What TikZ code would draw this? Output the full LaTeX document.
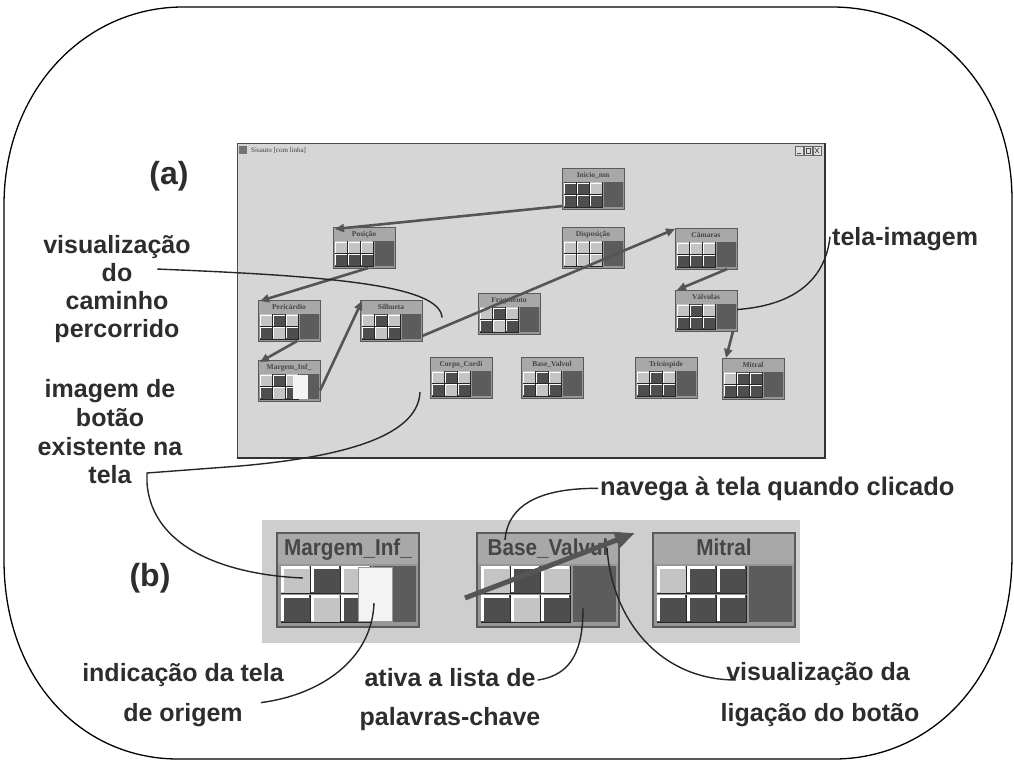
\documentclass[tikz,border=0pt]{standalone}
\usepackage{fontspec}
\setmainfont{Liberation Sans}
\newfontfamily\wserif{Liberation Serif}
\usetikzlibrary{arrows.meta,calc}

\definecolor{winbg}{RGB}{214,214,214}
\definecolor{stripbg}{RGB}{206,206,206}
\definecolor{wtitle}{RGB}{168,168,168}
\definecolor{wbody}{RGB}{150,150,150}
\definecolor{wedge}{RGB}{90,90,90}
\definecolor{cellL}{RGB}{196,196,196}
\definecolor{cellD}{RGB}{78,78,78}
\definecolor{wblock}{RGB}{92,92,92}
\definecolor{wtext}{RGB}{70,70,70}
\definecolor{flowc}{RGB}{85,85,85}
\definecolor{textc}{RGB}{45,45,45}
\definecolor{whiteblk}{RGB}{244,244,244}

\newcommand{\wsmallfont}{\fontsize{7.5}{8}\selectfont\wserif\bfseries}
\newcommand{\wbigfont}{\fontsize{23}{26}\selectfont\bfseries}

% #1 name, #2 top-left, #3 scale, #4 title, #5 font, #6 cell pattern
\newcommand{\wdg}[6]{%
  \pgfmathsetmacro\wlw{max(0.8,2.2*#3)}%
  \pgfmathsetmacro\wsl{max(0.5,1.0*#3)}%
  \pgfmathsetmacro\ww{142*#3}%
  \pgfmathsetmacro\wh{94*#3}%
  \begin{scope}[shift={#2},scale=#3]
    \fill[wbody] (0,0) rectangle (142,94);
    \fill[wtitle] (0,0) rectangle (142,31);
    \foreach \wt [count=\wi from 0] in {#6}{%
      \pgfmathtruncatemacro\wr{int(\wi/3)}%
      \pgfmathtruncatemacro\wc{mod(\wi,3)}%
      \pgfmathsetmacro\wxa{4+30*\wc}%
      \pgfmathsetmacro\wya{33+29*\wr}%
      \if\wt L\fill[cellL] (\wxa,\wya) rectangle ++(29,27);\else\fill[cellD] (\wxa,\wya) rectangle ++(29,27);\fi
      \draw[black!85,line width=\wsl pt] (\wxa,\wya+27) -- ++(29,0) -- ++(0,-27);
      \draw[white,line width=\wlw pt] (\wxa+1.5,\wya+26) -- (\wxa+1.5,\wya+1.5) -- (\wxa+28,\wya+1.5);
    }
    \fill[wblock] (96,33) rectangle (139,89);
    \node[font=#5,text=wtext,anchor=base,inner sep=0] at (71,22) {#4};
    \draw[wedge,line width=\wlw pt] (0,0) rectangle (142,94);
  \end{scope}
  \node[inner sep=0,outer sep=0,minimum width=\ww pt,minimum height=\wh pt,anchor=north west] (#1) at #2 {};%
}

\begin{document}
\begin{tikzpicture}[x=1pt,y=-1pt,
  flow/.style={draw=flowc,line width=2.6pt,-{Triangle[length=9pt,width=8pt]}},
  ann/.style={draw=black!85,line width=1.4pt},
  lbl/.style={font=\fontsize{25}{30}\selectfont\bfseries,text=textc,inner sep=0pt,anchor=base}]
\useasboundingbox (0,0) rectangle (1014,762);

% outer frame
\draw[line width=1.3pt] (183,7) -- (832,7) .. controls (931,7) and (1012,84) .. (1012,200)
  -- (1012,555) .. controls (1012,680) and (930,759) .. (834,759)
  -- (178,759) .. controls (82,759) and (4,680) .. (4,560)
  -- (4,205) .. controls (4,90) and (85,7) .. (183,7);

% window (a)
\fill[winbg] (237,143) rectangle (825,458);
\draw[black!70,line width=0.8pt] (237,458) -- (237,143) -- (825,143);
\draw[black!80,line width=2pt] (825,143) -- (825,458) -- (237,458);
\fill[black!55] (239,146) rectangle (247,154);
\node[anchor=base west,font=\fontsize{7}{8}\selectfont\wserif,text=black!75,inner sep=0] (wtitle) at (251,153) {Sisauto [com linha]};
\draw[black!60,line width=0.6pt,fill=black!12] (795,146) rectangle (803,155);
\draw[black!60,line width=0.6pt,fill=black!12] (804,146) rectangle (812,155);
\draw[black!60,line width=0.6pt,fill=black!12] (813,146) rectangle (821,155);
\draw[black!70,line width=0.6pt] (797,153) -- (801,153);
\draw[black!70,line width=0.5pt] (806,148) rectangle (810,153);
\draw[black!70,line width=0.6pt] (815,148) -- (819,153) (815,153) -- (819,148);

% small widgets
\wdg{inicio}{(562,168)}{0.437}{Inicio\_nm}{\wsmallfont}{D,D,L,D,D,D}
\wdg{posicao}{(333,227)}{0.437}{Posição}{\wsmallfont}{L,L,L,D,D,D}
\wdg{disposicao}{(562,227)}{0.437}{Disposição}{\wsmallfont}{L,L,L,L,L,L}
\wdg{camaras}{(675,228)}{0.437}{Câmaras}{\wsmallfont}{L,L,L,D,D,D}
\wdg{pericardio}{(258,300)}{0.437}{Pericárdio}{\wsmallfont}{L,D,L,D,L,D}
\wdg{silhueta}{(360,300)}{0.437}{Silhueta}{\wsmallfont}{L,D,L,D,L,D}
\wdg{fragmento}{(478,293)}{0.437}{Fragmento}{\wsmallfont}{L,D,L,D,L,D}
\wdg{valvulas}{(675,290)}{0.437}{Válvulas}{\wsmallfont}{L,D,L,D,D,D}
\wdg{margemA}{(258,360)}{0.437}{Margem\_Inf\_}{\wsmallfont}{L,D,L,D,L,D}
\fill[whiteblk] ($(margemA.north west)+(35,15)$) rectangle ++(15,24);
\wdg{corpo}{(430,357)}{0.437}{Corpo\_Cordi}{\wsmallfont}{L,D,L,D,L,D}
\wdg{baseA}{(521,357)}{0.437}{Base\_Valvul}{\wsmallfont}{L,D,L,D,L,D}
\wdg{tricuspide}{(635,357)}{0.437}{Tricúspide}{\wsmallfont}{L,D,L,D,D,D}
\wdg{mitralA}{(722,358)}{0.437}{Mitral}{\wsmallfont}{L,D,D,D,D,D}

% path arrows in (a)
\draw[flow] ($(inicio.south west)+(0,-3)$) -- ($(posicao.north west)+(2,2)$);
\draw[flow] ($(posicao.south)+(4,0)$) -- ($(pericardio.north west)+(2,1)$);
\draw[flow] ($(pericardio.south)+(8,0)$) -- ($(margemA.north west)+(2,2)$);
\draw[flow] ($(margemA.east)+(0,10)$) -- ($(silhueta.north west)+(2,1)$);
\draw[flow] ($(silhueta.south east)+(0,-5)$) -- ($(camaras.north west)+(0,1)$);
\draw[flow] ($(camaras.south east)+(-10,0)$) -- ($(valvulas.north west)+(2,0)$);
\draw[flow] ($(valvulas.south east)+(-4,0)$) -- ($(mitralA.north west)+(4,0)$);

% strip (b)
\fill[stripbg] (262,520) rectangle (800,643);
\wdg{margemB}{(277,533)}{1}{\scalebox{0.9}[1]{Margem\_Inf\_}}{\wbigfont}{L,D,L,D,L,D}
\fill[whiteblk] ($(margemB.north west)+(81,34)$) rectangle ++(34,54);
\draw[black!40,line width=0.6pt] ($(margemB.north west)+(81,34)$) rectangle ++(34,54);
\wdg{baseB}{(477,533)}{1}{\scalebox{0.9}[1]{Base\_Valvul}}{\wbigfont}{L,D,L,D,L,D}
\wdg{mitralB}{(653,533)}{1}{\scalebox{0.9}[1]{Mitral}}{\wbigfont}{L,D,D,D,D,D}
\draw[draw=flowc,line width=5pt,-{Triangle[length=20pt,width=16pt]}] ($(baseB.west)+(-12,18)$) -- ($(baseB.north east)+(16,0)$);

% labels
\node[lbl,font=\fontsize{32}{36}\selectfont\bfseries] (la) at (169,185) {(a)};
\node[lbl,font=\fontsize{32}{36}\selectfont\bfseries] (lb) at (150,586) {(b)};
\node[lbl] (vis1) at (117,253) {visualização};
\node[lbl] (vis2) at (117,281) {do};
\node[lbl] (vis3) at (117,309) {caminho};
\node[lbl] (vis4) at (117,337) {percorrido};
\node[lbl] (img1) at (110,397) {imagem de};
\node[lbl] (img2) at (110,426) {botão};
\node[lbl] (img3) at (110,455) {existente na};
\node[lbl] (img4) at (110,483) {tela};
\node[lbl,anchor=base west] (ti) at (832,245) {tela-imagem};
\node[lbl,anchor=base west,font=\fontsize{25.5}{30}\selectfont\bfseries] (nav) at (600,495) {navega à tela quando clicado};
\node[lbl] (ind1) at (183,681) {indicação da tela};
\node[lbl] (ind2) at (183,721) {de origem};
\node[lbl] (atv1) at (450,686) {ativa a lista de};
\node[lbl] (atv2) at (450,725) {palavras-chave};
\node[lbl] (lig1) at (818,680) {visualização da};
\node[lbl] (lig2) at (820,721) {ligação do botão};

% annotation connectors
\coordinate (tk) at (147,473);
\draw[ann] ($(vis2.east)+(25,-3)$) .. controls (330,276) and (440,285) .. ($(silhueta.east)+(20,-3)$);
\draw[ann] ($(corpo.south west)+(-10,-6)$) .. controls (418,440) and (330,458) .. (240,466) -- (tk) -- ++(0,10)
  .. controls (152,550) and (230,575) .. ($(margemB.west)+(26,-2)$);
\draw[ann] ($(ti.west)+(-2,-2)$) .. controls (826,275) and (800,305) .. ($(valvulas.east)+(0,-1)$);
\draw[ann] ($(nav.west)+(-2,0)$) .. controls (545,488) and (508,502) .. ($(baseB.north west)+(28,7)$);
\draw[ann] ($(ind2.east)+(18,-12)$) .. controls (320,695) and (372,660) .. ($(margemB.north west)+(97,70)$);
\draw[ann] ($(atv1.east)+(2,3)$) .. controls (572,675) and (583,650) .. ($(baseB.north west)+(106,75)$);
\draw[ann] ($(baseB.north east)+(-12,15)$) .. controls (612,620) and (660,680) .. ($(lig1.base west)+(10,0)$);
\end{tikzpicture}
\end{document}
